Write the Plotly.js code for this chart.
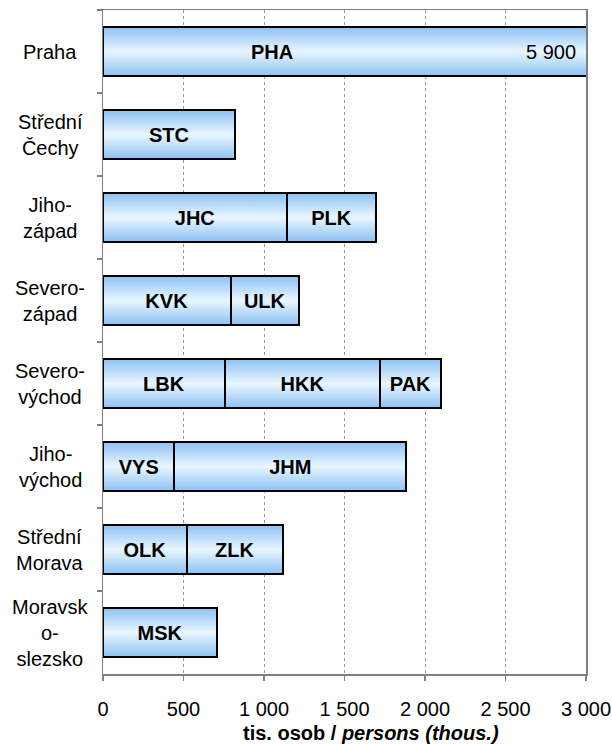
<!DOCTYPE html>
<html>
<head>
<meta charset="utf-8">
<script src="https://cdn.plot.ly/plotly-3.0.1.min.js"></script>
<style>
  body { margin: 0; background: #fff; }
  #chart { width: 612px; height: 744px; }
</style>
</head>
<body>
<div id="chart"></div>
<script>
// regions, top to bottom
var regions = ["Praha", "Střední<br>Čechy", "Jiho-<br>západ", "Severo-<br>západ",
  "Severo-<br>východ", "Jiho-<br>východ", "Střední<br>Morava", "Moravsk<br>o-<br>slezsko"];

// thousands of persons, per kraj segment
var seg1Vals = [5900, 820, 1140, 792, 757, 444, 519, 708];
var seg1Names = ["PHA", "STC", "JHC", "KVK", "LBK", "VYS", "OLK", "MSK"];
var seg2Vals = [null, null, 558, 425, 964, 1439, 598, null];
var seg2Names = ["", "", "PLK", "ULK", "HKK", "JHM", "ZLK", ""];
var seg3Vals = [null, null, null, null, 377, null, null, null];
var seg3Names = ["", "", "", "", "PAK", "", "", ""];

var xMax = 3000;
var font = "Liberation Sans, Arial, sans-serif";

function fmt(v){
  return String(v).replace(/\B(?=(\d{3})+(?!\d))/g, " ");
}

function segTrace(vals, names){
  return {
    type: "bar",
    orientation: "h",
    y: regions,
    x: vals,
    // labels of bars running past the axis are drawn as annotations
    text: names.map(function(n, i){ return vals[i] > xMax ? "" : n; }),
    textposition: "inside",
    insidetextanchor: "middle",
    constraintext: "none",
    textangle: 0,
    insidetextfont: {family: font, size: 20, color: "#000", weight: "bold"},
    marker: {color: "#c4e2fb", line: {color: "#000", width: 2}},
    hoverinfo: "skip"
  };
}

var data = [segTrace(seg1Vals, seg1Names), segTrace(seg2Vals, seg2Names), segTrace(seg3Vals, seg3Names)];

var annotations = [];
regions.forEach(function(r){
  annotations.push({
    xref: "paper", yref: "y", x: -0.109, y: r,
    text: r, showarrow: false, xanchor: "center", yanchor: "middle", align: "center",
    font: {family: font, size: 20, color: "#000"}
  });
});
seg1Vals.forEach(function(v, i){
  if (v > xMax) {
    annotations.push({x: 1050, y: regions[i], text: "<b>" + seg1Names[i] + "</b>", showarrow: false,
      xanchor: "center", font: {family: font, size: 20, color: "#000"}});
    annotations.push({x: 2950, y: regions[i], text: fmt(v), showarrow: false,
      xanchor: "right", font: {family: font, size: 20, color: "#000"}});
  }
});
// axis title, sits a bit right of the plot centre in the original
annotations.push({
  xref: "paper", yref: "paper", x: 0.555, y: -0.089, yanchor: "middle", xanchor: "center",
  text: "<b>tis. osob / <i>persons (thous.)</i></b>", showarrow: false,
  font: {family: font, size: 20, color: "#000"}
});

var layout = {
  width: 612, height: 744,
  margin: {l: 103, r: 26, t: 10, b: 70},
  barmode: "stack",
  bargap: 0.41,
  showlegend: false,
  separators: ", ",
  paper_bgcolor: "#fff",
  plot_bgcolor: "#fff",
  font: {family: font, color: "#000"},
  xaxis: {
    range: [0, xMax], dtick: 500, tick0: 0,
    separatethousands: true,
    ticks: "outside", ticklen: 5, tickcolor: "#808080", tickwidth: 1.5,
    ticklabelstandoff: 11,
    showgrid: true, gridcolor: "#9a9a9a", griddash: "dot", gridwidth: 1,
    showline: true, mirror: true, linecolor: "#808080", linewidth: 1.5,
    zeroline: false,
    tickfont: {family: font, size: 20, color: "#000"}
  },
  yaxis: {
    type: "category", autorange: "reversed",
    tickson: "boundaries", ticks: "outside", ticklen: 5, tickcolor: "#808080", tickwidth: 1.5,
    showticklabels: false, showgrid: false,
    showline: true, mirror: true, linecolor: "#808080", linewidth: 1.5
  },
  annotations: annotations
};

Plotly.newPlot("chart", data, layout, {displayModeBar: false, staticPlot: true}).then(function(gd){
  // vertical blue-white-blue gradient like the original bars
  var ns = "http://www.w3.org/2000/svg";
  var svg = gd.querySelector("svg.main-svg");
  var defs = svg.querySelector("defs") || svg.insertBefore(document.createElementNS(ns, "defs"), svg.firstChild);
  var grad = document.createElementNS(ns, "linearGradient");
  grad.setAttribute("id", "barGrad");
  grad.setAttribute("x1", "0"); grad.setAttribute("y1", "0");
  grad.setAttribute("x2", "0"); grad.setAttribute("y2", "1");
  [["0", "#8cc1f3"], ["0.5", "#e9f6ff"], ["1", "#8cc1f3"]].forEach(function(s){
    var st = document.createElementNS(ns, "stop");
    st.setAttribute("offset", s[0]);
    st.setAttribute("stop-color", s[1]);
    grad.appendChild(st);
  });
  defs.appendChild(grad);
  gd.querySelectorAll(".barlayer .point path").forEach(function(p){
    p.style.fill = "url(#barGrad)";
  });
});
</script>
</body>
</html>
